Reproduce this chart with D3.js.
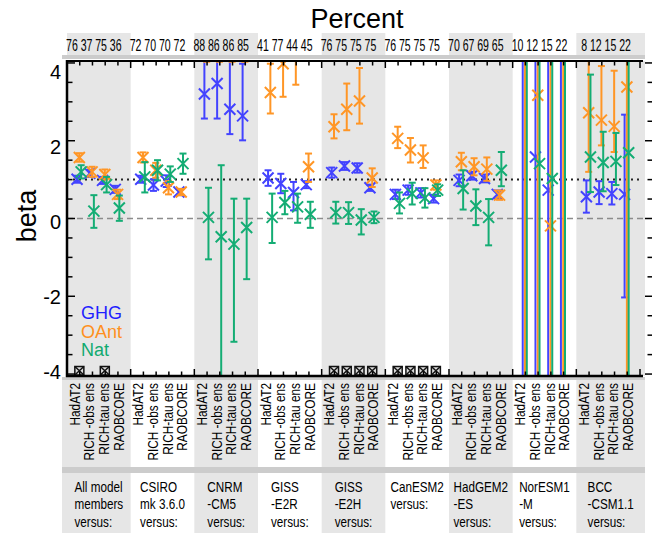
<!DOCTYPE html>
<html>
<head>
<meta charset="utf-8">
<script src="https://cdn.jsdelivr.net/npm/d3@7"></script>
<style>
  body { margin: 0; background: #fff; }
  svg { font-family: "Liberation Sans", Arial, sans-serif; }
</style>
</head>
<body>
<svg id="chart" width="652" height="533"></svg>
<script>
// models (one group each) and the four observational datasets
const models = [
  ["All model", "members", "versus:"],
  ["CSIRO", "mk 3.6.0", "versus:"],
  ["CNRM", "-CM5", "versus:"],
  ["GISS", "-E2R", "versus:"],
  ["GISS", "-E2H", "versus:"],
  ["CanESM2", "versus:"],
  ["HadGEM2", "-ES", "versus:"],
  ["NorESM1", "-M", "versus:"],
  ["BCC", "-CSM1.1", "versus:"]
];
const datasets = ["HadAT2", "RICH -obs ens", "RICH-tau ens", "RAOBCORE"];

const percent = [
  [76, 37, 75, 36], [72, 70, 70, 72], [88, 86, 86, 85], [41, 77, 44, 45],
  [76, 75, 75, 75], [76, 75, 75, 75], [70, 67, 69, 65], [10, 12, 15, 22], [8, 12, 15, 22]
];

// [beta, lower, upper] per model x dataset
const ghg = [
  [1.01, 0.92, 1.10], [1.16, 1.07, 1.25], [0.98, 0.89, 1.07], [0.75, 0.66, 0.84],
  [1.01, 0.92, 1.10], [0.86, 0.71, 1.01], [0.96, 0.81, 1.11], [0.68, 0.60, 0.76],
  [3.20, 2.57, 4.60], [3.47, 2.57, 4.60], [2.81, 2.17, 4.60], [2.64, 2.01, 3.98],
  [1.04, 0.84, 1.24], [0.90, 0.65, 1.15], [0.67, 0.21, 0.94], [0.87, 0.78, 0.96],
  [1.18, 1.05, 1.31], [1.35, 1.25, 1.45], [1.30, 1.18, 1.42], [0.79, 0.71, 0.87],
  [0.62, 0.50, 0.74], [0.73, 0.61, 0.85], [0.66, 0.54, 0.78], [0.51, 0.41, 0.61],
  [0.98, 0.83, 1.13], [1.10, 1.00, 1.20], [1.03, 0.93, 1.13], [0.62, 0.52, 0.72],
  [null, -10, 10], [1.58, -10, 10], [0.73, -10, 10], [null, -10, 10],
  [0.56, 0.15, 0.98], [0.68, 0.37, 0.96], [0.64, 0.36, 0.94], [0.62, -2.03, 2.67]
];
const oant = [
  [1.57, 1.46, 1.68], [1.20, 1.07, 1.33], [1.13, 1.00, 1.26], [0.62, 0.50, 0.74],
  [1.57, 1.44, 1.70], [1.24, 1.05, 1.43], [0.79, 0.62, 0.96], [0.68, 0.60, 0.76],
  [4.60, 4.03, 5.20], [4.60, 4.03, 5.20], [4.60, 4.03, 5.20], [4.60, 4.03, 5.20],
  [3.24, 2.70, 3.98], [3.98, 3.13, 4.80], [4.30, 3.44, 5.20], [1.33, 0.94, 1.67],
  [2.36, 2.06, 2.68], [2.81, 2.27, 3.47], [3.02, 2.44, 3.87], [1.04, 0.81, 1.29],
  [2.06, 1.81, 2.36], [1.76, 1.44, 2.07], [1.56, 1.30, 1.88], [0.86, 0.74, 0.98],
  [1.46, 1.24, 1.69], [1.33, 1.11, 1.55], [1.27, 0.97, 1.57], [0.60, 0.48, 0.72],
  [null, -10, 10], [3.17, -10, 10], [-0.19, -10, 10], [null, -10, 10],
  [2.72, 1.20, 6.00], [2.53, 1.88, 3.92], [2.37, 1.71, 3.80], [3.38, -10, 10]
];
const nat = [
  [1.20, 1.03, 1.37], [0.19, -0.24, 0.60], [0.87, 0.67, 1.07], [0.27, -0.06, 0.59],
  [1.07, 0.67, 1.45], [1.24, 0.98, 1.50], [1.14, 0.94, 1.34], [1.41, 1.15, 1.67],
  [0.03, -1.05, 0.79], [-0.47, -4.60, 1.37], [-0.66, -3.17, 0.51], [-0.23, -1.56, 0.51],
  [0.03, -0.63, 0.64], [0.41, 0.11, 0.71], [0.30, -0.11, 0.64], [0.11, -0.24, 0.43],
  [0.15, -0.13, 0.43], [0.15, -0.14, 0.42], [-0.04, -0.41, 0.24], [0.03, -0.12, 0.18],
  [0.39, 0.13, 0.67], [0.64, 0.36, 0.92], [0.53, 0.28, 0.78], [0.73, 0.58, 0.88],
  [0.77, 0.23, 1.24], [0.32, -0.17, 0.75], [0.03, -0.69, 0.50], [1.24, 0.83, 1.71],
  [null, -10, 10], [1.41, -10, 10], [1.03, -10, 10], [null, -10, 10],
  [1.58, 0.68, 3.70], [1.44, 0.70, 2.23], [1.47, 0.86, 2.20], [1.69, -10, 10]
];
// categories marked with a crossed box
const flagged = [0, 2, 16, 17, 18, 19, 20, 21, 22, 23];

const seriesNames = ["GHG", "OAnt", "Nat"];
const seriesData = [ghg, oant, nat];
const colors = ["#4343ff", "#ff9626", "#14ad74"];
const legendColors = ["#1f1fff", "#ff9020", "#10aa70"];
const offsets = [-0.18, 0, 0.14];

const svg = d3.select('#chart');
const pLeft = 67, pRight = 643, pTop = 61, pBottom = 376;
const x = d3.scaleLinear().domain([0, 45]).range([67, 640]);
const y = d3.scaleLinear().domain([-4.05, 4.05]).range([pBottom, pTop]);
// tick labels sit on a slightly tighter scale than the ticks themselves
const yLabel = d3.scaleLinear().domain([-4.2, 4.2]).range([pBottom + 3, pTop + 3]);
const grey = "#e6e6e6", strip = "#cccccc";
const catX = (g, c) => x(5 * g + c + 1 - 0.03);
const bandL = g => g === 0 ? 62 : x(5 * g);
const bandR = g => g === models.length - 1 ? 645 : x(5 * g + 5);

// --- background bands
models.forEach((m, g) => {
  if (g % 2 === 0) {
    svg.append('rect').attr('x', x(5 * g)).attr('y', 33)
      .attr('width', bandR(g) - x(5 * g)).attr('height', 22).attr('fill', grey);
    svg.append('rect').attr('x', x(5 * g)).attr('y', pTop)
      .attr('width', bandR(g) - x(5 * g)).attr('height', pBottom - pTop).attr('fill', grey);
    svg.append('rect').attr('x', bandL(g)).attr('y', 379)
      .attr('width', bandR(g) - bandL(g)).attr('height', 88).attr('fill', grey);
    svg.append('rect').attr('x', bandL(g)).attr('y', 473)
      .attr('width', bandR(g) - bandL(g)).attr('height', 60).attr('fill', grey);
  }
});
svg.append('rect').attr('x', 62).attr('y', 55).attr('width', 583).attr('height', 4).attr('fill', strip);
svg.append('rect').attr('x', 62).attr('y', 377).attr('width', 583).attr('height', 3).attr('fill', strip);
svg.append('rect').attr('x', 62).attr('y', 467).attr('width', 583).attr('height', 6).attr('fill', strip);

// --- titles
svg.append('text').attr('x', 357).attr('y', 28).attr('text-anchor', 'middle')
  .style('font-size', '27px').text('Percent');
svg.append('text').attr('transform', 'translate(36,216) rotate(-90)').attr('text-anchor', 'middle')
  .style('font-size', '27px').text('beta');

// --- percent row
percent.forEach((row, g) => {
  row.forEach((p, c) => {
    svg.append('text')
      .attr('transform', `translate(${x(5 * g) + 10.8 + 14.6 * c},50.5) scale(0.66,1)`)
      .attr('text-anchor', 'end').style('font-size', '16px').text(p);
  });
});

// --- reference lines
svg.append('line').attr('x1', pLeft).attr('x2', pRight).attr('y1', y(0)).attr('y2', y(0))
  .attr('stroke', '#8c8c8c').attr('stroke-width', 1.5).attr('stroke-dasharray', '6,4');
svg.append('line').attr('x1', pLeft).attr('x2', pRight).attr('y1', y(1)).attr('y2', y(1))
  .attr('stroke', '#222').attr('stroke-width', 2).attr('stroke-dasharray', '2,4');

// --- points with error bars
svg.append('clipPath').attr('id', 'plotClip').append('rect')
  .attr('x', pLeft).attr('y', pTop).attr('width', pRight - pLeft).attr('height', pBottom - pTop);
const plot = svg.append('g').attr('clip-path', 'url(#plotClip)');

seriesData.forEach((data, s) => {
  const gS = plot.append('g').attr('stroke', colors[s]).attr('stroke-width', 2).attr('fill', 'none');
  data.forEach((d, i) => {
    const g = Math.floor(i / 4), c = i % 4;
    const cx = catX(g, c) + offsets[s] * (x(1) - x(0));
    const [v, lo, hi] = d;
    gS.append('line').attr('x1', cx).attr('x2', cx).attr('y1', y(lo)).attr('y2', y(hi));
    [lo, hi].forEach(e => {
      gS.append('line').attr('x1', cx - 3.5).attr('x2', cx + 3.5).attr('y1', y(e)).attr('y2', y(e));
    });
    if (v !== null) {
      const cy = y(v);
      gS.append('path').attr('d', `M${cx - 5.5},${cy - 5.5}L${cx + 5.5},${cy + 5.5}M${cx - 5.5},${cy + 5.5}L${cx + 5.5},${cy - 5.5}`);
    }
  });
});

// --- crossed boxes
flagged.forEach(i => {
  const cx = catX(Math.floor(i / 4), i % 4);
  const b = svg.append('g').attr('stroke', '#111').attr('stroke-width', 1.5).attr('fill', '#ddd');
  b.append('rect').attr('x', cx - 4.5).attr('y', pBottom - 9.5).attr('width', 9).attr('height', 8.5);
  b.append('path').attr('d', `M${cx - 4.5},${pBottom - 9.5}L${cx + 4.5},${pBottom - 1}M${cx - 4.5},${pBottom - 1}L${cx + 4.5},${pBottom - 9.5}`);
});

// --- axes / frame
const frame = svg.append('g').attr('stroke', '#000');
frame.append('line').attr('x1', pLeft).attr('x2', pRight).attr('y1', pTop).attr('y2', pTop).attr('stroke-width', 2);
frame.append('line').attr('x1', pLeft - 1).attr('x2', pRight).attr('y1', pBottom).attr('y2', pBottom).attr('stroke-width', 2.5);
frame.append('line').attr('x1', pLeft).attr('x2', pLeft).attr('y1', pTop - 1).attr('y2', pBottom + 1).attr('stroke-width', 2.5);

d3.range(0, 46).forEach(u => {
  const len = u % 5 === 0 ? 7 : 4.5;
  frame.append('line').attr('x1', x(u)).attr('x2', x(u)).attr('y1', pTop).attr('y2', pTop + len).attr('stroke-width', 1.5);
  frame.append('line').attr('x1', x(u)).attr('x2', x(u)).attr('y1', pBottom).attr('y2', pBottom - len).attr('stroke-width', 1.5);
});
d3.range(-4, 4.01, 0.5).forEach(v => {
  const len = v % 2 === 0 ? 8 : 5.5;
  frame.append('line').attr('x1', pLeft).attr('x2', pLeft + len).attr('y1', y(v)).attr('y2', y(v)).attr('stroke-width', 1.5);
  frame.append('line').attr('x1', 652).attr('x2', 652 - len + 1).attr('y1', y(v)).attr('y2', y(v)).attr('stroke-width', 1.5);
});

const yAxis = d3.axisLeft(yLabel).tickValues([-4, -2, 0, 2, 4]).tickSize(0).tickPadding(0)
  .tickFormat(d => String(d));
const gY = svg.append('g').attr('transform', `translate(${pLeft - 6},0)`).call(yAxis);
gY.select('.domain').remove();
gY.selectAll('text').style('font-size', '20px').style('font-family', '"Liberation Sans", Arial, sans-serif')
  .attr('dy', '0.36em');

// --- legend
seriesNames.forEach((n, s) => {
  svg.append('text').attr('x', 81).attr('y', 319 + 18.5 * s).attr('fill', legendColors[s])
    .style('font-size', '18px').text(n);
});

// --- rotated dataset labels
models.forEach((m, g) => {
  datasets.forEach((ds, c) => {
    svg.append('text')
      .attr('transform', `translate(${x(5 * g) + 12.5 + 14.7 * c},383) rotate(-90) scale(0.79,1)`)
      .attr('text-anchor', 'end').style('font-size', '15px').text(ds);
  });
});

// --- model names
models.forEach((lines, g) => {
  const blk = svg.append('g');
  const texts = lines.map((t, k) => blk.append('text').attr('y', 492 + 17.5 * k)
    .style('font-size', '15px').text(t));
  const w = d3.max(texts, t => t.node().getComputedTextLength()) * 0.78;
  const cx = (x(5 * g) + bandR(g)) / 2;
  blk.attr('transform', `translate(${cx - w / 2},0) scale(0.78,1)`);
  texts.forEach(t => t.attr('x', 0));
});
</script>
</body>
</html>
